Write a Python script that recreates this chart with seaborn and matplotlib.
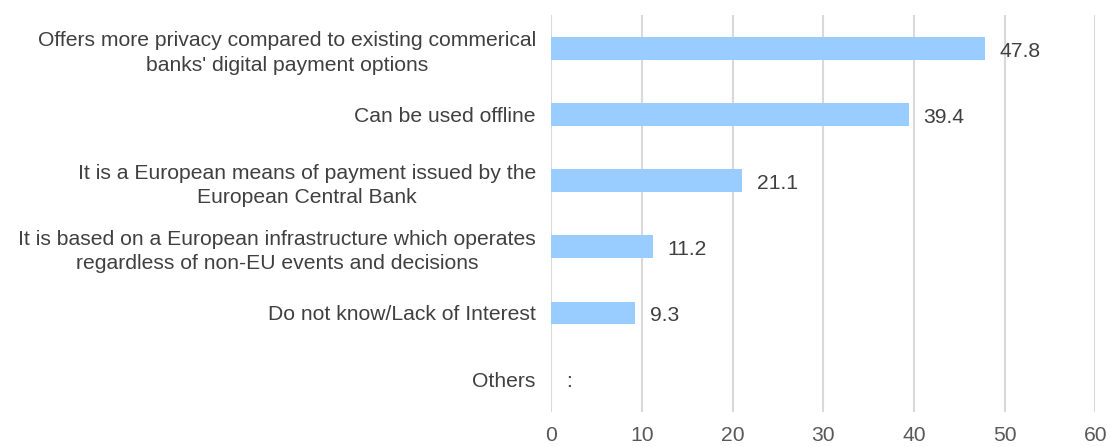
import matplotlib
matplotlib.use("Agg")
import matplotlib.pyplot as plt
import seaborn as sns
import pandas as pd

categories = [
    "Offers more privacy compared to existing commerical\nbanks' digital payment options",
    "Can be used offline",
    "It is a European means of payment issued by the\nEuropean Central Bank",
    "It is based on a European infrastructure which operates\nregardless of non-EU events and decisions",
    "Do not know/Lack of Interest",
    "Others",
]
values = [47.8, 39.4, 21.1, 11.2, 9.3, 0.0]
value_labels = ["47.8", "39.4", "21.1", "11.2", "9.3", ":"]
x_ticks = [0, 10, 20, 30, 40, 50, 60]

sns.set_theme(style="white")
plt.rcParams["font.family"] = ["Liberation Sans", "DejaVu Sans"]

df = pd.DataFrame({"category": categories, "value": values})

fig = plt.figure(figsize=(11.11, 4.47), dpi=100)
ax = fig.add_axes([0.496, 0.078, 0.490, 0.888])

sns.barplot(data=df, y="category", x="value", orient="h", color="#99CCFF",
            saturation=1, width=0.34, linewidth=0, ax=ax, zorder=3)

ax.set_xlim(0, 60)
ax.set_ylim(5.5, -0.5)
ax.set_xticks(x_ticks)
ax.set_xlabel("")
ax.set_ylabel("")
ax.grid(axis="x", color="#d9d9d9", linewidth=1.5, zorder=0)
ax.grid(axis="y", visible=False)
for s in ax.spines.values():
    s.set_visible(False)

ax.tick_params(axis="x", length=0, pad=10, labelsize=15.2, labelcolor="#595959")
ax.tick_params(axis="y", length=0, pad=11, labelsize=15.2, labelcolor="#404040")
for lbl in ax.get_yticklabels():
    lbl.set_multialignment("center")
    lbl.set_linespacing(1.35)

for i, (v, t) in enumerate(zip(values, value_labels)):
    ax.annotate(t, xy=(v, i), xytext=(10.5, -2), textcoords="offset points",
                ha="left", va="center", fontsize=15.2, color="#404040")

fig.savefig("out.png", dpi=100)
